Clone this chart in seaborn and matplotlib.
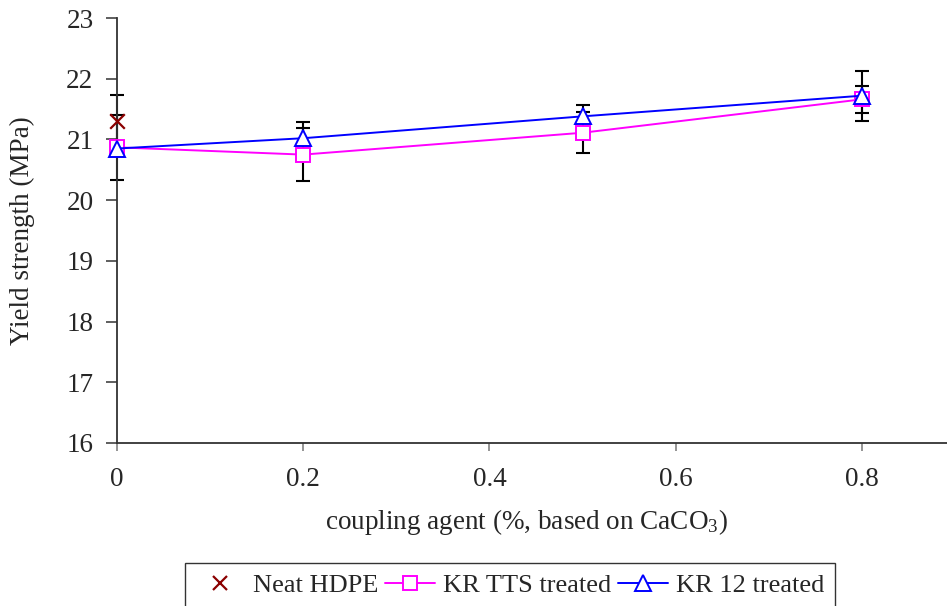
import numpy as np
import pandas as pd
import matplotlib
matplotlib.use("Agg")
import matplotlib.pyplot as plt
from matplotlib.lines import Line2D
import seaborn as sns

# coupling agent loading (%, based on CaCO3)
coupling = [0.0, 0.2, 0.5, 0.8]

# yield strength (MPa) and standard deviations
neat_x = [0.0]
neat_y = [21.31]
neat_err = [0.43]

tts_y = [20.87, 20.75, 21.11, 21.66]
tts_err = [0.53, 0.44, 0.34, 0.22]

kr12_y = [20.85, 21.02, 21.38, 21.72]
kr12_err = [0.10, 0.27, 0.19, 0.41]

series_names = ["Neat HDPE", "KR TTS treated", "KR 12 treated"]
series_colors = ["#8B0000", "#FF00FF", "#0000FF"]

sns.set_style("ticks")
plt.rcParams["font.family"] = ["Liberation Serif", "DejaVu Serif"]
plt.rcParams["mathtext.fontset"] = "custom"
plt.rcParams["mathtext.rm"] = "Liberation Serif"
plt.rcParams["mathtext.it"] = "Liberation Serif:italic"

tts_df = pd.DataFrame({"x": coupling, "y": tts_y})
kr12_df = pd.DataFrame({"x": coupling, "y": kr12_y})
neat_df = pd.DataFrame({"x": neat_x, "y": neat_y})

fig = plt.figure(figsize=(9.47, 6.06), dpi=100)
ax = fig.add_axes([117 / 947, 163 / 606, 830 / 947, 425 / 606])

# error bars underneath the markers
err_kw = dict(fmt="none", ecolor="black", elinewidth=1.5, capsize=5.2,
              capthick=1.5, zorder=2, clip_on=False)
ax.errorbar(neat_x, neat_y, yerr=neat_err, **err_kw)
ax.errorbar(coupling, tts_y, yerr=tts_err, **err_kw)
ax.errorbar(coupling, kr12_y, yerr=kr12_err, **err_kw)

sns.lineplot(data=tts_df, x="x", y="y", color=series_colors[1], marker="s",
             markersize=9.5, markerfacecolor="white",
             markeredgecolor=series_colors[1], markeredgewidth=1.4,
             linewidth=1.4, ax=ax, zorder=3, clip_on=False)
sns.lineplot(data=kr12_df, x="x", y="y", color=series_colors[2], marker="^",
             markersize=11.5, markerfacecolor="white",
             markeredgecolor=series_colors[2], markeredgewidth=1.4,
             linewidth=1.4, ax=ax, zorder=4, clip_on=False)
sns.scatterplot(data=neat_df, x="x", y="y", marker="x", s=110,
                color=series_colors[0], linewidth=1.6, ax=ax, zorder=5,
                clip_on=False, legend=False)

ax.set_xlim(0, 830 / 931)
ax.set_ylim(16, 23)
ax.set_xticks([0, 0.2, 0.4, 0.6, 0.8])
ax.set_xticklabels(["0", "0.2", "0.4", "0.6", "0.8"])
ax.set_yticks(range(16, 24))

for side in ["top", "right"]:
    ax.spines[side].set_visible(False)
for side in ["left", "bottom"]:
    ax.spines[side].set_color("#333333")
    ax.spines[side].set_linewidth(1.3)

ax.tick_params(axis="y", direction="out", length=8, width=1.1, color="#333333",
               labelsize=19.5, pad=9)
ax.tick_params(axis="x", direction="out", length=6, width=1.1, color="#777777",
               labelsize=19.5, pad=11)

ax.set_xlabel(r"coupling agent (%, based on CaCO$_3$)", fontsize=19.5)
ax.set_ylabel("Yield strength (MPa)", fontsize=19.5)
ax.xaxis.set_label_coords(409 / 830, -64 / 425)
ax.yaxis.set_label_coords(-82 / 830, 0.5)

handles = [
    Line2D([], [], linestyle="none", marker="x", color=series_colors[0],
           markersize=10, markeredgewidth=1.6),
    Line2D([], [], color=series_colors[1], marker="s", markerfacecolor="white",
           markersize=9.5, markeredgewidth=1.4, linewidth=1.4),
    Line2D([], [], color=series_colors[2], marker="^", markerfacecolor="white",
           markersize=11.5, markeredgewidth=1.4, linewidth=1.4),
]
leg = fig.legend(handles, series_names, loc="upper center",
                 bbox_to_anchor=(510 / 947, 43 / 606), ncol=3, fontsize=19,
                 frameon=True, fancybox=False, edgecolor="black",
                 handlelength=1.9, handletextpad=0.3, columnspacing=0.25,
                 borderpad=0.4, borderaxespad=0)
leg.get_frame().set_linewidth(1.0)

fig.savefig("out.png", dpi=100)
